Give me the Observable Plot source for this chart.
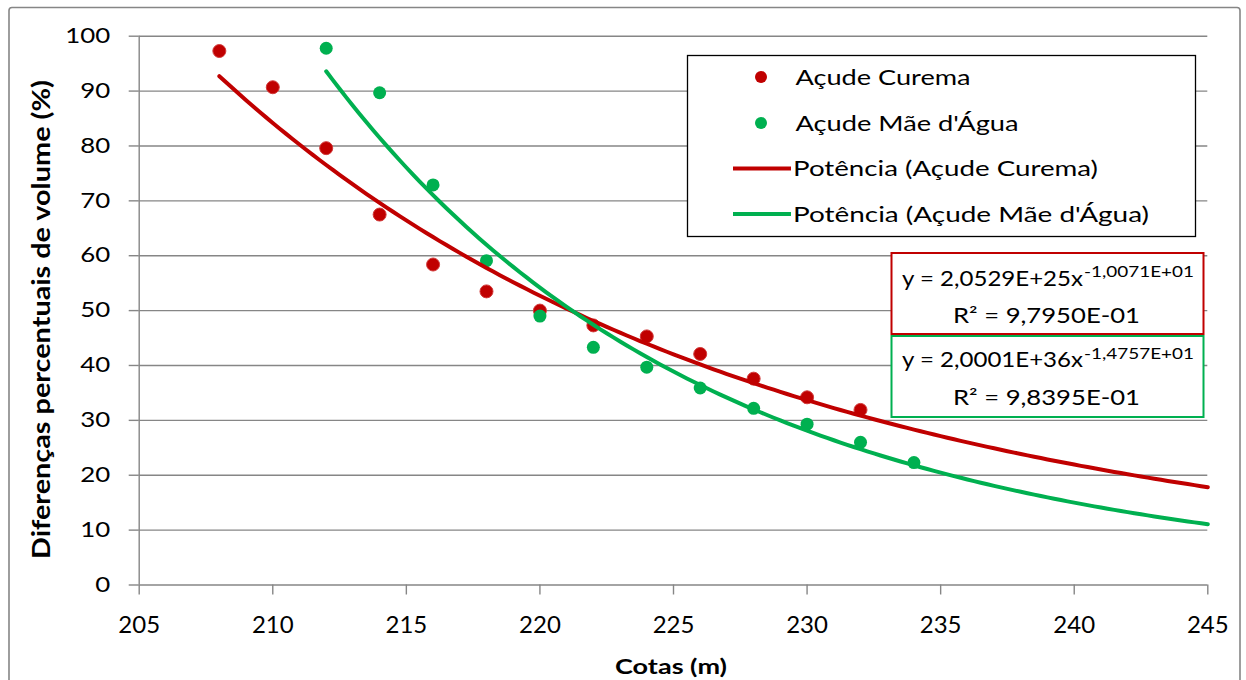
<!DOCTYPE html>
<html>
<head>
<meta charset="utf-8">
<script src="https://cdn.jsdelivr.net/npm/d3@7"></script>
<script src="https://cdn.jsdelivr.net/npm/@observablehq/plot@0.6"></script>
<style>
  html, body { margin: 0; padding: 0; background: #fff; }
  #chart svg { display: block; font-family: Lato, "Open Sans", sans-serif; }
</style>
</head>
<body>
<div id="chart"></div>
<script>
// ---- data ----
const cotasCurema = [208, 210, 212, 214, 216, 218, 220, 222, 224, 226, 228, 230, 232];
const volCurema   = [97.3, 90.7, 79.6, 67.5, 58.4, 53.5, 50.0, 47.3, 45.3, 42.1, 37.6, 34.2, 31.9];
const cotasMae    = [212, 214, 216, 218, 220, 222, 224, 226, 228, 230, 232, 234];
const volMae      = [97.8, 89.7, 72.9, 59.1, 49.0, 43.3, 39.7, 35.9, 32.2, 29.3, 26.0, 22.3];

// power trendlines as printed on the chart: y = a * x^b, drawn over [from, to]
const trendCurema = { a: 2.0529e25, b: -10.071, from: 208, to: 245 };
const trendMae    = { a: 2.0001e36, b: -14.757, from: 212, to: 245 };

const xTicks = [205, 210, 215, 220, 225, 230, 235, 240, 245];
const yTicks = [0, 10, 20, 30, 40, 50, 60, 70, 80, 90, 100];

const seriesNames = ["Açude Curema", "Açude Mãe d'Água", "Potência (Açude Curema)", "Potência (Açude Mãe d'Água)"];
const eqCurema = { main: "y = 2,0529E+25x", sup: "-1,0071E+01", r2: "R² = 9,7950E-01" };
const eqMae    = { main: "y = 2,0001E+36x", sup: "-1,4757E+01", r2: "R² = 9,8395E-01" };

const RED = "#C00000", GREEN = "#00B050", GRID = "#868686";

// ---- tables ----
const ptsCurema = cotasCurema.map((x, i) => ({ x, y: volCurema[i] }));
const ptsMae = cotasMae.map((x, i) => ({ x, y: volMae[i] }));
const curve = t => d3.range(t.from, t.to + 0.001, 0.25).map(x => ({ x, y: t.a * Math.pow(x, t.b) }));
const lineCurema = curve(trendCurema);
const lineMae = curve(trendMae);

const W = 1246, H = 680;
const mL = 138.7, mR = W - 1207.3, mT = 35.7, mB = H - 584.5;

const plot = Plot.plot({
  width: W, height: H,
  marginLeft: mL, marginRight: mR, marginTop: mT, marginBottom: mB,
  style: { fontFamily: "Lato, 'Open Sans', sans-serif", color: "#000", background: "#fff", overflow: "visible" },
  x: { domain: [205, 245] },
  y: { domain: [0, 100] },
  marks: [
    Plot.ruleY(yTicks.filter(d => d > 0), { stroke: GRID, strokeWidth: 1.4 }),
    Plot.axisY({ ticks: yTicks, tickSize: 10, tickPadding: 19, fontSize: 21, stroke: GRID, strokeWidth: 1.4, label: null }),
    Plot.axisX({ ticks: xTicks, tickSize: 10, tickPadding: 21, fontSize: 24, stroke: GRID, strokeWidth: 1.4, label: null }),
    Plot.ruleX([205], { stroke: GRID, strokeWidth: 1.4 }),
    Plot.ruleY([0], { stroke: GRID, strokeWidth: 1.4 }),
    Plot.dot(ptsCurema, { x: "x", y: "y", r: 6.5, fill: RED, stroke: "#d23a3a", strokeWidth: 1 }),
    Plot.dot(ptsMae, { x: "x", y: "y", r: 6.5, fill: GREEN }),
    Plot.line(lineCurema, { x: "x", y: "y", stroke: RED, strokeWidth: 4 }),
    Plot.line(lineMae, { x: "x", y: "y", stroke: GREEN, strokeWidth: 4 })
  ]
});
document.getElementById("chart").appendChild(plot);

const svg = d3.select(plot);
const font = "Lato, 'Open Sans', sans-serif";

// widen the y tick labels (reference glyphs are horizontally stretched)
svg.selectAll("g[aria-label='y-axis tick label'] text").each(function () {
  const w = this.getComputedTextLength();
  if (w > 0) d3.select(this).attr("textLength", w * 1.23).attr("lengthAdjust", "spacingAndGlyphs");
});

// ---- overlays: frame, axis titles, legend, equation boxes ----
svg.insert("rect", ":first-child")
  .attr("x", 9).attr("y", 7.5).attr("width", 1231).attr("height", 700).attr("rx", 3)
  .attr("fill", "none").attr("stroke", GRID).attr("stroke-width", 1.6);

svg.append("text")
  .attr("transform", "translate(50,319.5) rotate(-90)")
  .attr("text-anchor", "middle").attr("font-family", font).attr("font-weight", "bold")
  .attr("font-size", 24).attr("fill", "#000")
  .attr("textLength", 479).attr("lengthAdjust", "spacingAndGlyphs")
  .text("Diferenças percentuais de volume (%)");

svg.append("text")
  .attr("x", 671).attr("y", 673.5)
  .attr("text-anchor", "middle").attr("font-family", font).attr("font-weight", "bold")
  .attr("font-size", 21).attr("fill", "#000")
  .attr("textLength", 112).attr("lengthAdjust", "spacingAndGlyphs")
  .text("Cotas (m)");

// legend
const lg = svg.append("g").attr("text-anchor", "start");
lg.append("rect").attr("x", 687.5).attr("y", 55.5).attr("width", 508).attr("height", 181)
  .attr("fill", "#fff").attr("stroke", "#000").attr("stroke-width", 1.3);
const rowsY = [77, 123, 168.5, 214];
const textW = [175, 223, 305, 356];
[RED, GREEN].forEach((c, i) => {
  lg.append("circle").attr("cx", 761).attr("cy", rowsY[i]).attr("r", 6).attr("fill", c);
});
[RED, GREEN].forEach((c, i) => {
  lg.append("line").attr("x1", 733).attr("x2", 791).attr("y1", rowsY[i + 2]).attr("y2", rowsY[i + 2])
    .attr("stroke", c).attr("stroke-width", 4);
});
seriesNames.forEach((s, i) => {
  lg.append("text").attr("x", i < 2 ? 795.5 : 793).attr("y", rowsY[i] + 7.5)
    .attr("text-anchor", "start")
    .attr("font-family", font).attr("font-size", 21).attr("fill", "#000")
    .attr("textLength", textW[i]).attr("lengthAdjust", "spacingAndGlyphs")
    .text(s);
});

// equation boxes
function eqBox(eq, color, top, base1, base2) {
  const g = svg.append("g").attr("text-anchor", "start");
  g.append("rect").attr("x", 891.5).attr("y", top).attr("width", 312).attr("height", 81)
    .attr("fill", "#fff").attr("stroke", color).attr("stroke-width", 2);
  g.append("text").attr("x", 902).attr("y", base1).attr("text-anchor", "start")
    .attr("font-family", font).attr("font-size", 21).attr("fill", "#000")
    .attr("textLength", 181).attr("lengthAdjust", "spacingAndGlyphs").text(eq.main);
  g.append("text").attr("x", 1084).attr("y", base1 - 8.5).attr("text-anchor", "start")
    .attr("font-family", font).attr("font-size", 15).attr("fill", "#000")
    .attr("textLength", 110).attr("lengthAdjust", "spacingAndGlyphs").text(eq.sup);
  g.append("text").attr("x", 953).attr("y", base2).attr("text-anchor", "start")
    .attr("font-family", font).attr("font-size", 21).attr("fill", "#000")
    .attr("textLength", 187).attr("lengthAdjust", "spacingAndGlyphs").text(eq.r2);
}
eqBox(eqCurema, RED, 253, 285.5, 322.5);
eqBox(eqMae, GREEN, 336, 367, 404.5);
</script>
</body>
</html>
